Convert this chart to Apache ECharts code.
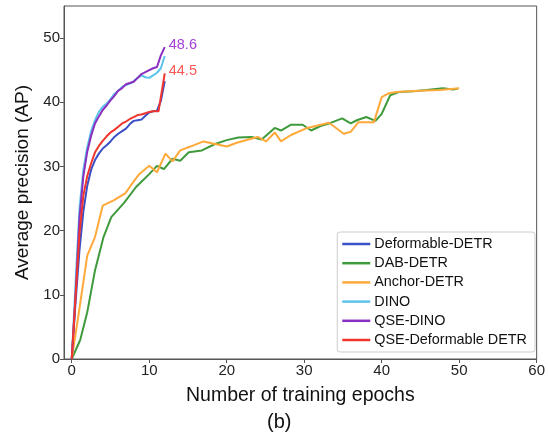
<!DOCTYPE html>
<html>
<head>
<meta charset="utf-8">
<script src="https://cdn.jsdelivr.net/npm/echarts@6/dist/echarts.min.js"></script>
<style>
  html, body { margin: 0; padding: 0; background: #fff; }
  #chart { width: 548px; height: 439px; }
</style>
</head>
<body>
<div id="chart"></div>
<script>
// 数据：[epoch, AP]
var deformableDetr = [[0,0],[0.5,9],[1,17],[1.5,23],[2,27],[2.5,29.5],[3,31],[3.5,32],[4,32.8],[4.5,33.3],[5,33.9],[5.5,34.6],[6,35.1],[6.5,35.5],[7,35.9],[7.5,36.6],[8,37.1],[8.5,37.2],[9,37.3],[9.5,37.9],[10,38.4],[10.5,38.6],[11,38.7],[11.5,40.2],[12,43.3]];
var dabDetr = [[0,0],[1.1,3.0],[2,7.3],[3,13.8],[4.1,19.0],[5.1,22.1],[6.8,24.4],[8.3,26.8],[10,28.8],[11,30.1],[11.9,29.6],[13,31.2],[14,30.9],[15.1,32.2],[16.8,32.5],[18.5,33.5],[20,34.1],[21.5,34.5],[23.2,34.6],[24.5,34.2],[26.2,36.0],[27,35.6],[28.3,36.5],[29.8,36.5],[30.9,35.6],[32.1,36.3],[33,36.6],[34.9,37.5],[36,36.7],[36.8,37.2],[38,37.7],[39.2,37.1],[40,38.2],[41.1,41.1],[42.2,41.6],[44.1,41.7],[45.8,41.9],[47.9,42.2],[49.2,42.0],[49.8,42.1]];
var anchorDetr = [[0,0],[0.9,7.1],[2,16.1],[3,19.0],[4,23.9],[5.4,24.7],[6.9,25.8],[7.6,27.0],[8.7,28.8],[10,30.1],[11,29.1],[12.1,32.0],[13,30.8],[14,32.5],[15.3,33.1],[17,33.9],[18.5,33.5],[20,33.1],[21.3,33.7],[22.8,34.2],[24,34.6],[25.1,33.9],[26.2,35.3],[27,33.9],[28.3,34.9],[30.4,36.0],[33.2,36.8],[35.1,35.1],[36,35.4],[37,36.9],[39,36.9],[40,40.8],[40.9,41.4],[41.9,41.6],[44.9,41.8],[47.5,41.9],[50,42.2]];
var dino = [[0,0],[0.5,12],[1,23.5],[1.5,29.5],[2,33],[2.5,35.5],[3,37.2],[3.5,38.5],[4,39.3],[4.5,39.8],[5,40.5],[5.5,41.3],[6,41.8],[6.5,42.4],[7,42.7],[7.5,42.9],[8,43.3],[8.5,43.8],[9,44.2],[9.5,43.9],[10,43.8],[10.5,44.2],[11,44.6],[11.5,45.3],[12,47.2]];
var qseDino = [[0,0],[0.5,10],[1,22],[1.5,28.5],[2,32.3],[2.5,34.8],[3,36.7],[3.5,37.8],[4,38.8],[4.5,39.5],[5,40.3],[5.5,41.0],[6,41.8],[6.5,42.2],[7,42.8],[7.5,43.0],[8,43.2],[8.5,43.8],[9,44.4],[9.5,44.7],[10,45.0],[10.5,45.3],[11,45.5],[11.5,47.3],[12,48.6]];
var qseDeformable = [[0,0],[0.5,10],[1,19.5],[1.5,25.5],[2,28.5],[2.5,30.5],[3,32.2],[3.5,33.2],[4,34.0],[4.5,34.7],[5,35.3],[5.5,35.7],[6,36.2],[6.5,36.7],[7,37.0],[7.5,37.4],[8,37.7],[8.5,38.0],[9,38.1],[9.5,38.3],[10,38.5],[10.5,38.6],[11.2,38.6],[12,44.5]];

var xTicks = [0, 10, 20, 30, 40, 50, 60];
var yTicks = [0, 10, 20, 30, 40, 50];

var names = ["Deformable-DETR", "DAB-DETR", "Anchor-DETR", "DINO", "QSE-DINO", "QSE-Deformable DETR"];
var seriesData = [deformableDetr, dabDetr, anchorDetr, dino, qseDino, qseDeformable];
var colors = ["#3b4fc6", "#3f9a3c", "#ffa93a", "#5cc3ea", "#8a2fbf", "#f0362c"];
var endLabels = { "QSE-DINO": "48.6", "QSE-Deformable DETR": "44.5" };
var endColors = { "QSE-DINO": "#a340d6", "QSE-Deformable DETR": "#ff5858" };

var myChart = echarts.init(document.getElementById("chart"));

var series = names.map(function (n, i) {
  var s = {
    name: n,
    type: "line",
    data: seriesData[i],
    showSymbol: false,
    symbol: "none",
    z: i === 4 || i === 5 ? 5 : 3,
    lineStyle: { width: 2, color: colors[i] },
    itemStyle: { color: colors[i] },
  };
  if (endLabels[n]) {
    s.endLabel = {
      show: true,
      formatter: endLabels[n],
      color: endColors[n],
      fontSize: 14.5,
      fontFamily: "Liberation Sans",
      distance: 4,
      offset: [0, -2],
    };
  }
  return s;
});

var option = {
  animation: false,
  backgroundColor: "#fff",
  color: colors,
  title: {
    text: "(b)",
    left: 267,
    top: 412,
    padding: 0,
    textStyle: { fontSize: 20, fontWeight: "normal", color: "#111", fontFamily: "Liberation Sans" },
  },
  grid: {
    left: 64,
    right: 7,
    top: 6,
    bottom: 80,
    show: true,
    borderColor: "#555",
    borderWidth: 1,
  },
  legend: {
    data: names,
    orient: "vertical",
    right: 13,
    top: 232,
    icon: "rect",
    itemWidth: 28,
    itemHeight: 2.5,
    itemGap: 5.2,
    padding: [5, 8, 5, 5],
    borderColor: "#ccc",
    borderWidth: 1,
    borderRadius: 3,
    backgroundColor: "#fff",
    textStyle: { fontSize: 14.4, color: "#111", fontFamily: "Liberation Sans", padding: [0, 0, 0, -1] },
  },
  xAxis: {
    type: "value",
    min: -1,
    max: 60,
    name: "Number of training epochs",
    nameLocation: "middle",
    nameGap: 27,
    nameTextStyle: { fontSize: 19.5, color: "#111", fontFamily: "Liberation Sans" },
    splitLine: { show: false },
    axisLine: { onZero: false, lineStyle: { color: "#555" } },
    axisTick: { show: true, inside: false, length: 4, customValues: xTicks, lineStyle: { color: "#555" } },
    axisLabel: { customValues: xTicks, fontSize: 15, color: "#222", margin: 4, fontFamily: "Liberation Sans" },
  },
  yAxis: {
    type: "value",
    min: 0,
    max: 55,
    name: "Average precision (AP)",
    nameLocation: "middle",
    nameGap: 32,
    nameTextStyle: { fontSize: 19, color: "#111", fontFamily: "Liberation Sans" },
    splitLine: { show: false },
    axisLine: { show: true, onZero: false, lineStyle: { color: "#555" } },
    axisTick: { show: true, inside: false, length: 4, customValues: yTicks, lineStyle: { color: "#555" } },
    axisLabel: { customValues: yTicks, fontSize: 15, color: "#222", margin: 4, fontFamily: "Liberation Sans" },
  },
  series: series,
};

myChart.setOption(option);
</script>
</body>
</html>
